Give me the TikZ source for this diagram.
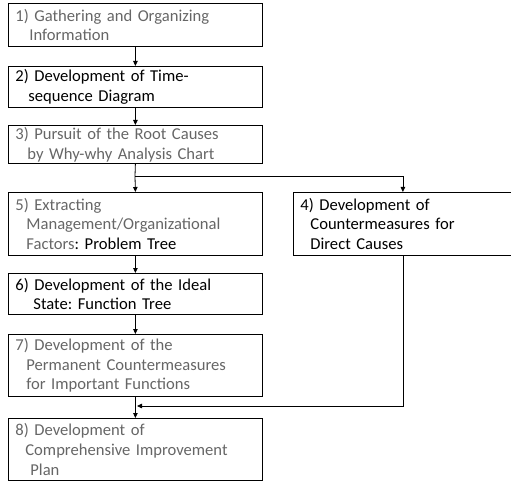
\documentclass[tikz,border=0pt]{standalone}
\usepackage{fontspec}
\setmainfont{Carlito}
\usetikzlibrary{arrows.meta}
\definecolor{txtgray}{HTML}{666666}
\newcommand{\ind}[1]{\hspace*{#1pt}}
\frenchspacing
\begin{document}
\begin{tikzpicture}[x=1pt,y=-1pt,
  stepbox/.style={draw=black,line width=0.8pt,anchor=north west,align=left,
    inner xsep=7pt,inner ysep=0pt,
    font=\fontsize{16.6}{19.8}\selectfont},
  arr/.style={line width=0.8pt,-{Triangle[length=5pt,width=4.5pt]}},
  link/.style={line width=0.8pt}]
\useasboundingbox (0,0) rectangle (511,481);
\begin{scope}
\clip (0,0) rectangle (511,481);
% left column of steps
\node[stepbox,text=txtgray,text width=240pt,minimum height=43pt] (b1) at (8,3)
  {1) Gathering and Organizing\\\ind{14}Information};
\node[stepbox,text width=240pt,minimum height=41pt] (b2) at (8,66)
  {2) Development of Time-\\\ind{13}sequence Diagram};
\node[stepbox,text=txtgray,text width=240pt,minimum height=38pt] (b3) at (8,125)
  {3) Pursuit of the Root Causes\\\ind{12}by Why-why Analysis Chart};
\node[stepbox,text=txtgray,text width=240pt,minimum height=63pt] (b5) at (8,192)
  {5) Extracting\\\ind{11}Management/Organizational\\\ind{11}Factors\textcolor{black}{: Problem Tree}};
\node[stepbox,text width=205pt,minimum height=63pt] (b4) at (293,192)
  {4) Development of\\\ind{10}Countermeasures for\\\ind{10}Direct Causes};
\node[stepbox,text width=240pt,minimum height=41pt] (b6) at (8,273)
  {6) Development of the Ideal\\\ind{18}State: Function Tree};
\node[stepbox,text=txtgray,text width=240pt,minimum height=62pt] (b7) at (8,334)
  {7) Development of the\\\ind{11}Permanent Countermeasures\\\ind{11}for Important Functions};
\node[stepbox,text=txtgray,text width=240pt,minimum height=62pt] (b8) at (8,418)
  {8) Development of\\\ind{10}Comprehensive Improvement\\\ind{15}Plan};
\end{scope}
% branch and merge points
\coordinate (fork) at (135,176);
\coordinate (merge) at (137,406);
% connectors
\draw[arr] (b1.south) -- (b2.north);
\draw[arr] (b2.south) -- (b3.north);
\draw[link] (b3.south) -- (fork);
\draw[arr] (fork) -- (b5.north);
\draw[arr] (fork) -| (b4.north);
\draw[arr] (b5.south) -- (b6.north);
\draw[arr] (b6.south) -- (b7.north);
\draw[arr] (b7.south) -- (b8.north);
\draw[arr] (b4.south) |- (merge);
\end{tikzpicture}
\end{document}
